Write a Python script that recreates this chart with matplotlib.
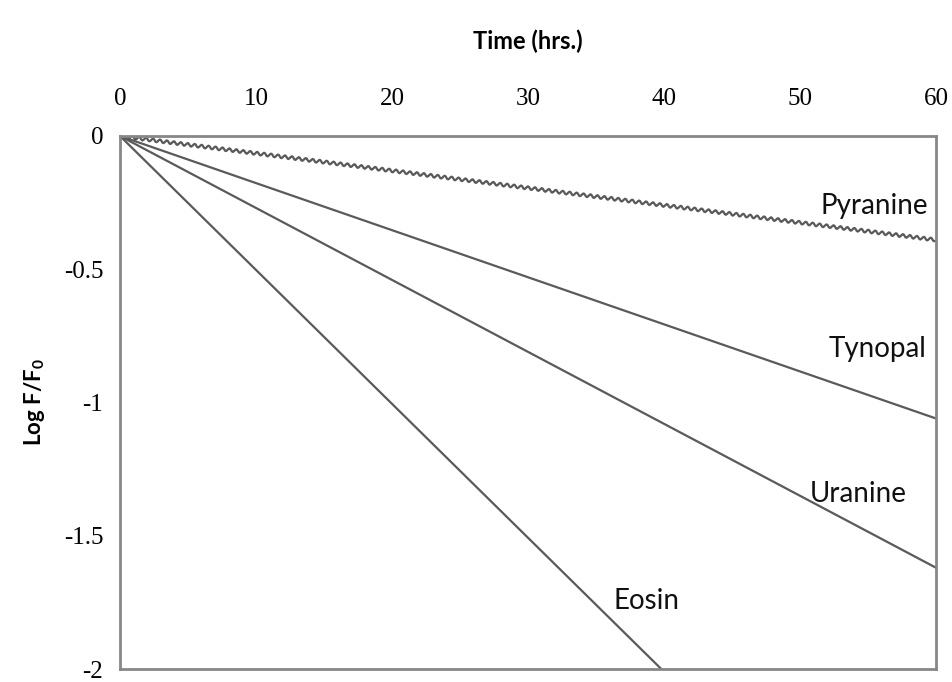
import matplotlib
matplotlib.use("Agg")
import matplotlib.pyplot as plt

# Data (log F/F0 vs time in hours)
time_hrs = [0, 60]
pyranine = [0, -0.39]
tynopal = [0, -1.06]
uranine = [0, -1.62]
eosin_time = [0, 39.8]
eosin = [0, -2.0]

series_names = ["Pyranine", "Tynopal", "Uranine", "Eosin"]
x_ticks = [0, 10, 20, 30, 40, 50, 60]
y_ticks = [0, -0.5, -1, -1.5, -2]
y_tick_labels = ["0", "-0.5", "-1", "-1.5", "-2"]

line_color = "#5a5a5a"
frame_color = "#878787"

fig = plt.figure(figsize=(9.52, 6.82), dpi=100)
ax = fig.add_axes([120 / 952, 1 - 669 / 682, 816 / 952, 533 / 682])

lp, = ax.plot(time_hrs, pyranine, color=line_color, lw=1.6)
lp.set_sketch_params(scale=1.6, length=7, randomness=1)
ax.plot(time_hrs, tynopal, color=line_color, lw=1.6)
ax.plot(time_hrs, uranine, color=line_color, lw=1.6)
ax.plot(eosin_time, eosin, color=line_color, lw=1.6)

ax.set_xlim(0, 60)
ax.set_ylim(-2, 0)
ax.xaxis.tick_top()
ax.xaxis.set_label_position("top")
ax.set_xticks(x_ticks)
ax.set_yticks(y_ticks)
ax.set_yticklabels(y_tick_labels)

tick_font = ["Liberation Serif"]
for lab in ax.get_xticklabels() + ax.get_yticklabels():
    lab.set_family(tick_font)
    lab.set_fontsize(18)
    lab.set_color("#000000")
ax.tick_params(axis="x", length=0, pad=19)
ax.tick_params(axis="y", length=0, pad=12)

for s in ax.spines.values():
    s.set_color(frame_color)
    s.set_linewidth(2)

ax.set_xlabel("Time (hrs.)", fontsize=17, fontweight="bold", family="Lato", labelpad=28)
ax.set_ylabel("Log F/F$_\\mathregular{0}$", fontsize=16, fontweight="bold", family="Lato", labelpad=12)

lab_font = dict(fontsize=20, family="Lato", color="#111111")
ax.text(59.4, -0.262, series_names[0], ha="right", va="center", **lab_font)
ax.text(59.3, -0.80, series_names[1], ha="right", va="center", **lab_font)
ax.text(50.7, -1.345, series_names[2], ha="left", va="center", **lab_font)
ax.text(36.3, -1.745, series_names[3], ha="left", va="center", **lab_font)

fig.savefig("out.png", dpi=100)
